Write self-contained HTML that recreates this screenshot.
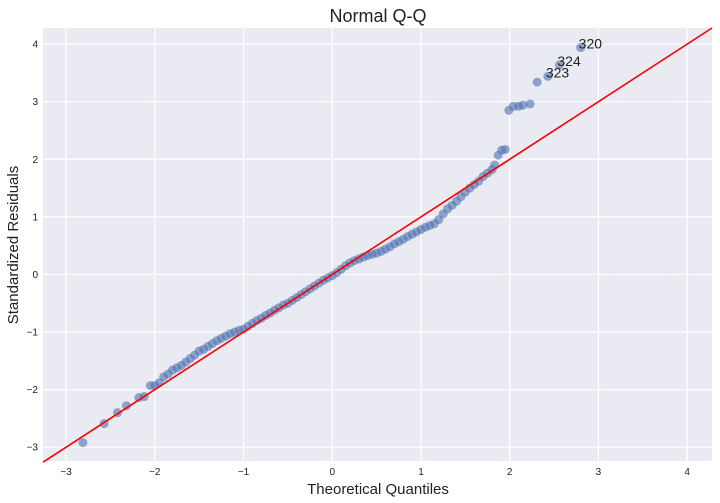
<!DOCTYPE html>
<html><head><meta charset="utf-8"><style>
html,body{margin:0;padding:0;background:#fff;}
svg{display:block;font-family:"Liberation Sans",sans-serif;}
</style></head><body>
<svg id="chart" width="720" height="503">
<rect x="43" y="28" width="669" height="433" fill="#eaeaf2"/>
<g id="grid"></g>
<g id="ticks"></g>
<g id="pts"></g>
<g id="ref"></g>
<g id="ann"></g>
<text x="378" y="22" font-size="18" text-anchor="middle" fill="#222">Normal Q-Q</text>
<text x="378" y="494" font-size="15" text-anchor="middle" fill="#222">Theoretical Quantiles</text>
<text x="18" y="245" font-size="15" text-anchor="middle" fill="#222" transform="rotate(-90 18 245)">Standardized Residuals</text>
</svg>
<script>
const xTicks=[-3,-2,-1,0,1,2,3,4];
const yTicks=[-3,-2,-1,0,1,2,3,4];
const theoretical=[-2.81,-2.57,-2.42,-2.32,-2.18,-2.12,-2.05,-2.00,-1.95,
-1.90,-1.85,-1.80,-1.75,-1.70,-1.65,-1.60,-1.55,-1.50,-1.45,
-1.40,-1.35,-1.30,-1.25,-1.20,-1.15,-1.10,-1.05,-1.00,-0.95,
-0.90,-0.85,-0.80,-0.75,-0.70,-0.65,-0.60,-0.55,-0.50,-0.45,
-0.40,-0.35,-0.30,-0.25,-0.20,-0.15,-0.10,-0.05,0.00,0.05,
0.10,0.15,0.20,0.25,0.30,0.35,0.40,0.45,0.50,0.55,
0.60,0.65,0.70,0.75,0.80,0.85,0.90,0.95,1.00,1.05,
1.10,1.15,1.20,1.25,1.30,1.35,1.40,1.45,1.50,1.55,
1.60,1.65,1.70,1.75,1.80,1.83,1.87,1.91,1.95,1.99,2.04,2.10,2.15,2.23,2.31,2.43,2.56,2.80];
const residuals=[-2.92,-2.59,-2.40,-2.28,-2.14,-2.12,-1.93,-1.93,-1.88,
-1.78,-1.73,-1.66,-1.62,-1.58,-1.52,-1.46,-1.40,-1.33,-1.30,
-1.25,-1.20,-1.15,-1.11,-1.07,-1.03,-1.00,-0.97,-0.95,-0.90,
-0.85,-0.80,-0.76,-0.71,-0.67,-0.62,-0.58,-0.53,-0.50,-0.45,
-0.40,-0.35,-0.30,-0.25,-0.20,-0.15,-0.10,-0.06,-0.02,0.03,
0.09,0.15,0.20,0.24,0.27,0.30,0.33,0.35,0.37,0.40,
0.44,0.48,0.53,0.57,0.61,0.66,0.70,0.74,0.78,0.82,
0.85,0.88,0.95,1.05,1.14,1.20,1.27,1.35,1.43,1.50,
1.56,1.62,1.70,1.76,1.82,1.90,2.07,2.16,2.17,2.85,2.92,2.92,2.94,2.96,3.34,3.44,3.64,3.94];
const outlierLabels=["323","324","320"];
const outlierIdx=[94,95,96];
const lineIntercept=0.0;
const lineSlope=1.0;

const X0=43,X1=712,Y0=28,Y1=461;
const xMin=-3.26,xMax=4.28,yMin=-3.24,yMax=4.28;
const sx=v=>X0+(v-xMin)/(xMax-xMin)*(X1-X0);
const sy=v=>Y1-(v-yMin)/(yMax-yMin)*(Y1-Y0);
const NS="http://www.w3.org/2000/svg";
function mk(t,a,p){const e=document.createElementNS(NS,t);for(const k in a)e.setAttribute(k,a[k]);p.appendChild(e);return e;}
const grid=document.getElementById('grid'),ticks=document.getElementById('ticks');
xTicks.forEach(t=>{
 const l=mk('line',{x1:sx(t),x2:sx(t),y1:Y0,y2:Y1,stroke:'#fff','stroke-width':1.2},grid);
 
 
 const tx=mk('text',{x:sx(t),y:475,'font-size':10,'text-anchor':'middle',fill:'#222'},ticks);
 tx.textContent=String(t).replace('-','\u2212');
 
 
});
yTicks.forEach(t=>{
 const l=mk('line',{x1:X0,x2:X1,y1:sy(t),y2:sy(t),stroke:'#fff','stroke-width':1.2},grid);
 
 
 const tx=mk('text',{x:38,y:sy(t)+3.5,'font-size':10,'text-anchor':'end',fill:'#222'},ticks);
 tx.textContent=String(t).replace('-','\u2212');
 
 
});
const pts=document.getElementById('pts');
theoretical.forEach((v,i)=>{
 const c=mk('circle',{cx:sx(v),cy:sy(residuals[i]),r:4.5,fill:'#4c72b0','fill-opacity':0.6},pts);
 
 
});
const ref=document.getElementById('ref');
const ly0=lineIntercept+lineSlope*xMin, ly1=lineIntercept+lineSlope*xMax;
const rl=mk('line',{x1:sx(xMin),y1:sy(ly0),x2:sx(xMax),y2:sy(ly1),stroke:'#ff0000','stroke-width':1.6},ref);


const ann=document.getElementById('ann');
outlierIdx.forEach((idx,k)=>{
 const t=mk('text',{x:sx(theoretical[idx])-2,y:sy(residuals[idx])+1,'font-size':14,fill:'#222'},ann);
 t.textContent=outlierLabels[k];
 
 
});
</script>
</body></html>
